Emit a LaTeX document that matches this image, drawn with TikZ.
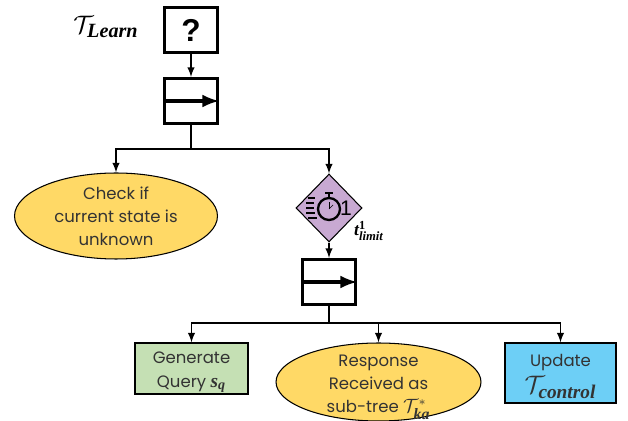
\documentclass[tikz,border=0pt]{standalone}
\usepackage{amsmath}
\usepackage{fontspec}
\setmainfont{Poppins}
\newfontfamily\symfont{Liberation Serif}
\newfontfamily\marksfont{Liberation Sans}
\newcommand{\boldit}[2]{\mbox{\fontsize{#1}{#1}\symfont\bfseries\itshape\selectfont #2}}
\newcommand{\boldup}[2]{\mbox{\fontsize{#1}{#1}\symfont\bfseries\selectfont #2}}
\usetikzlibrary{shapes.geometric}
\definecolor{stateyellow}{HTML}{FFD966}
\definecolor{querygreen}{HTML}{C5E0B4}
\definecolor{controlblue}{HTML}{6DCFF6}
\definecolor{timerpurple}{HTML}{C8A9D2}
\definecolor{labelgray}{HTML}{333333}
\tikzset{
    boxnode/.style={draw,line width=1.7pt,minimum width=1.06cm,minimum height=0.9cm,inner sep=0pt},
    action/.style={draw,line width=0.6pt,ellipse,fill=stateyellow,inner sep=-10pt,align=center,text=labelgray,font=\fontsize{9.4}{13}\selectfont},
    task/.style={draw,line width=0.6pt,inner sep=-6pt,align=center,text=labelgray,font=\fontsize{9.4}{13.5}\selectfont},
}
\begin{document}
\begin{tikzpicture}[x=0.02cm,y=-0.02cm,>=latex,line width=0.9pt]
        \useasboundingbox (0,0) rectangle (628,421);
        \node[boxnode,font=\marksfont\bfseries\fontsize{18}{18}\selectfont] (unknown) at (191,30){?};
        \node[boxnode] (seqa) at (191,101){};
        \node[boxnode] (seqb) at (329,282){};
        \node[action,minimum width=4.06cm,minimum height=1.72cm] (check) at (116,216){Check if\\current state is\\unknown};
        \node[draw,line width=0.6pt,diamond,fill=timerpurple,minimum width=1.32cm,minimum height=1.36cm,inner sep=0pt] (timer) at (329,208){};
        \node[task,fill=querygreen,minimum width=2.26cm,minimum height=1.02cm] (query) at (191.5,368.5){\rule{0pt}{11pt}Generate\\Query {\fontsize{11}{11}\selectfont$\boldit{11}{s}_{\boldit{8}{q}}$}};
        \node[action,minimum width=4.1cm,minimum height=1.56cm] (response) at (378.5,382){\rule{0pt}{13pt}Response\\Received as\\sub-tree {\fontsize{10.5}{10.5}\selectfont$\mathcal{T}^{*}_{\boldit{9}{ka}}$}};
        \node[task,fill=controlblue,minimum width=2.22cm,minimum height=1.2cm] (update) at (560.5,373){\rule{0pt}{11pt}Update\\[2pt]{\fontsize{14}{14}\selectfont$\mathcal{T}_{\boldit{11}{control}}$}};
        \node (learn) at (106,27){\fontsize{14}{14}\selectfont$\mathcal{T}_{\boldit{11.5}{Learn}}$};
        \node (limit) at (369,231){\fontsize{10}{10}\selectfont$\boldit{10}{t}^{\boldup{7}{1}}_{\boldit{7.2}{limit}}$};
        % stopwatch inside the diamond
        \draw[line width=1.3pt] (329,209) circle (11);
        \draw[line width=1.1pt] (325,193) -- (333,193);
        \draw[line width=1.1pt] (329,193) -- (329,198);
        \draw[line width=0.4pt] (329,209) -- (329,202);
        \draw[line width=0.4pt] (329,209) -- (333,205);
        \draw[line width=1pt] (308,198) -- (315,198);
        \draw[line width=1pt] (306,203) -- (314,203);
        \draw[line width=1pt] (306,208) -- (314,208);
        \draw[line width=1pt] (306,213) -- (315,213);
        \draw[line width=1pt] (308,218) -- (317,218);
        \node[inner sep=0pt,font=\marksfont\fontsize{12}{12}\selectfont] (one) at (346,208){1};
        % connectors
        \coordinate (splita) at (191,149);
        \coordinate (splitb) at (329,323);
        \coordinate (splitc) at (378.5,323);
        \draw[->] (unknown) -- (seqa);
        \draw[line width=2.2pt,->] (seqa.west) -- (seqa.east);
        \draw (seqa) -- (splita);
        \draw[->] (splita) -| (check.north);
        \draw[->] (splita) -| (timer.north);
        \draw[->] (timer) -- (seqb);
        \draw[line width=2.2pt,->] (seqb.west) -- (seqb.east);
        \draw (seqb) -- (splitb);
        \draw[->] (splitb) -| (query.north);
        \draw[->] (splitc) -- (response.north);
        \draw[->] (splitb) -| (update.north);
    \end{tikzpicture}
\end{document}
